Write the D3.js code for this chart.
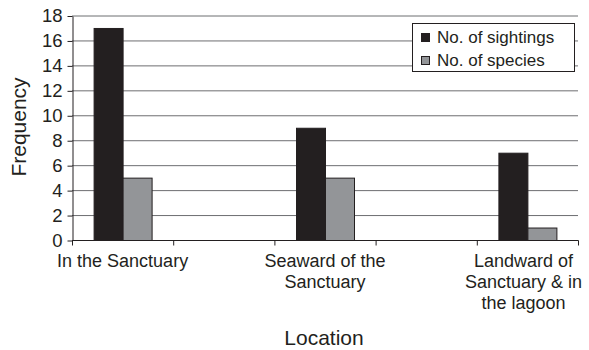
<!DOCTYPE html>
<html><head><meta charset="utf-8">
<script src="https://cdn.jsdelivr.net/npm/d3@7"></script>
<style>body{margin:0;background:#fff}svg{display:block;font-family:"Liberation Sans",Arial,sans-serif}</style>
</head><body><svg id="c" width="589" height="350"></svg>
<script>
const categories = ["In the Sanctuary", "", "Seaward of the Sanctuary", "", "Landward of Sanctuary & in the lagoon"];
const categoryLines = [["In the Sanctuary"], [], ["Seaward of the", "Sanctuary"], [], ["Landward of", "Sanctuary & in", "the lagoon"]];
const seriesNames = ["No. of sightings", "No. of species"];
const sightings = [17, null, 9, null, 7];
const species = [5, null, 5, null, 1];
const yTicks = [0, 2, 4, 6, 8, 10, 12, 14, 16, 18];
const colors = ["#231f20", "#939598"];

const svg = d3.select("#c");
const L = 72, R = 578, T = 15.5, B = 240;
const x = d3.scaleBand().domain(d3.range(categories.length)).range([L, R]).paddingInner(0).paddingOuter(0);
const y = d3.scaleLinear().domain([0, 18]).range([B, T]);
const inner = d3.scaleBand().domain([0, 1]).range([0, 58]);
const off = (x.bandwidth() - 58) / 2;

// gridlines
svg.append("g").selectAll("line").data(yTicks.filter(d => d > 0)).join("line")
  .attr("x1", L).attr("x2", R).attr("y1", d => y(d) + 0.5).attr("y2", d => y(d) + 0.5)
  .attr("stroke", "#6d6e71").attr("stroke-width", 1);

// bars
const series = [sightings, species];
series.forEach((vals, s) => {
  svg.append("g").selectAll("rect").data(vals.map((v, i) => ({v, i})).filter(d => d.v != null)).join("rect")
    .attr("x", d => x(d.i) + off + inner(s) + 0.5)
    .attr("y", d => y(d.v) + 0.5)
    .attr("width", inner.bandwidth())
    .attr("height", d => y(0) - y(d.v))
    .attr("fill", colors[s]).attr("stroke", "#231f20").attr("stroke-width", 1);
});

// y axis
const ya = svg.append("g").attr("transform", `translate(${L + 0.5},0.5)`)
  .call(d3.axisLeft(y).tickValues(yTicks).tickSize(5).tickPadding(5).tickSizeOuter(0));
ya.select(".domain").attr("stroke", "#231f20");
ya.selectAll(".tick line").attr("stroke", "#231f20");
ya.selectAll("text").attr("font-size", 18.5).attr("fill", "#231f20").attr("font-family", "Liberation Sans, Arial, sans-serif");

// x axis
const xa = svg.append("g").attr("transform", `translate(0,${B + 0.5})`);
xa.append("line").attr("x1", L).attr("x2", R + 0.5).attr("stroke", "#231f20");
const bounds = d3.range(categories.length + 1).map(i => i < categories.length ? x(i) : R);
xa.selectAll("line.t").data(bounds).join("line").attr("class", "t")
  .attr("x1", d => d + 0.5).attr("x2", d => d + 0.5).attr("y1", 0).attr("y2", 5).attr("stroke", "#231f20");
categoryLines.forEach((lines, i) => {
  const cx = x(i) + x.bandwidth() / 2;
  const t = svg.append("text").attr("text-anchor", "middle").attr("font-size", 18).attr("fill", "#231f20")
    .attr("x", cx).attr("y", 267);
  lines.forEach((ln, k) => t.append("tspan").attr("x", cx).attr("dy", k ? 21 : 0).text(ln));
  if (lines.length) {
    const bb = t.node().getBBox();
    const over = bb.x + bb.width - 582;
    if (over > 0) t.selectAll("tspan").attr("x", cx - over);
  }
});

// axis titles
svg.append("text").attr("x", 324).attr("y", 345).attr("text-anchor", "middle").attr("font-size", 21).attr("fill", "#231f20").text("Location");
svg.append("text").attr("transform", `translate(26,127) rotate(-90)`).attr("text-anchor", "middle").attr("font-size", 21).attr("fill", "#231f20").text("Frequency");

// legend
const lg = svg.append("g");
lg.append("rect").attr("x", 412.5).attr("y", 23.5).attr("width", 162).attr("height", 48).attr("fill", "#fff").attr("stroke", "#231f20");
seriesNames.forEach((n, i) => {
  lg.append("rect").attr("x", 421.5).attr("y", 33.5 + i * 23).attr("width", 8).attr("height", 8).attr("fill", colors[i]).attr("stroke", "#231f20");
  lg.append("text").attr("x", 437).attr("y", 43 + i * 23).attr("font-size", 17).attr("fill", "#231f20").text(n);
});
</script></body></html>
